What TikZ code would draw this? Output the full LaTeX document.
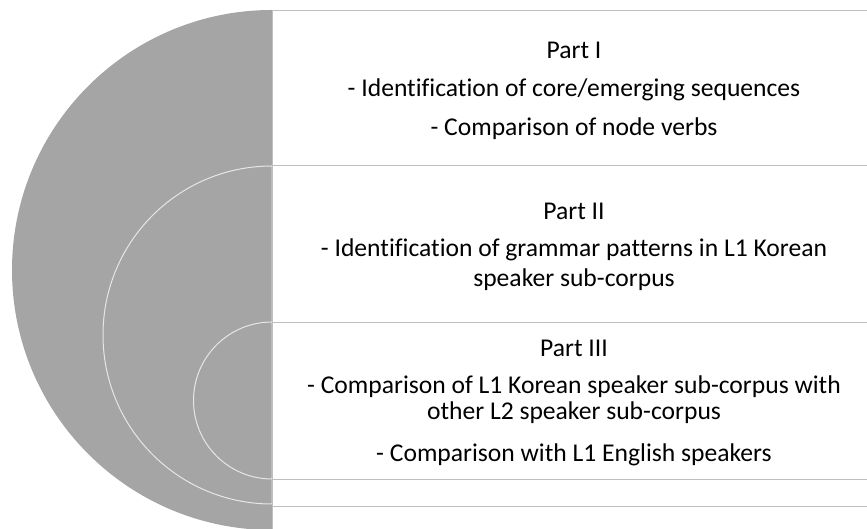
\documentclass[tikz,border=0pt]{standalone}
\usepackage{fontspec}
\setmainfont[Ligatures=NoCommon]{Carlito}
\definecolor{discgray}{HTML}{A5A5A5}
\definecolor{ringline}{HTML}{E6E6E6}
\definecolor{boxline}{HTML}{BFBFBF}
\begin{document}
\begin{tikzpicture}[x=1pt,y=1pt,
  disc/.style={fill=discgray,draw=ringline,line width=1pt},
  panel/.style={fill=white,draw=boxline,line width=0.8pt},
  txt/.style={anchor=base,inner sep=0pt,font=\fontsize{25.6}{28}\selectfont}]
\useasboundingbox (0,0) rectangle (867,529);
\clip (0,0) rectangle (867,529);
% discs (left halves)
\fill[discgray] (272,519) arc[start angle=90,end angle=270,radius=260] -- cycle;
\draw[disc] (272,363) arc[start angle=90,end angle=270,radius=169] -- cycle;
\draw[disc] (272,207) arc[start angle=90,end angle=270,radius=78.5] -- cycle;
% panels
\draw[panel] (272,519) rectangle (880,364);
\draw[panel] (272,364) rectangle (880,207);
\draw[panel] (272,207) rectangle (880,50);
\draw[panel] (272,50) rectangle (880,23);
\draw[panel] (272,23) rectangle (880,-10);
% texts
\node[txt] (p1) at (574,470.5) {Part I};
\node[txt] (p1a) at (574,432.5) {- Identification of core/emerging sequences};
\node[txt] (p1b) at (574,393.5) {- Comparison of node verbs};
\node[txt] (p2) at (574,309) {Part II};
\node[txt] (p2a) at (574,272) {- Identification of grammar patterns in L1 Korean};
\node[txt] (p2b) at (574,242) {speaker sub-corpus};
\node[txt] (p3) at (574,172) {Part III};
\node[txt] (p3a) at (574,135) {- Comparison of L1 Korean speaker sub-corpus with};
\node[txt] (p3b) at (574,109) {other L2 speaker sub-corpus};
\node[txt] (p3c) at (574,67) {- Comparison with L1 English speakers};
\end{tikzpicture}
\end{document}
